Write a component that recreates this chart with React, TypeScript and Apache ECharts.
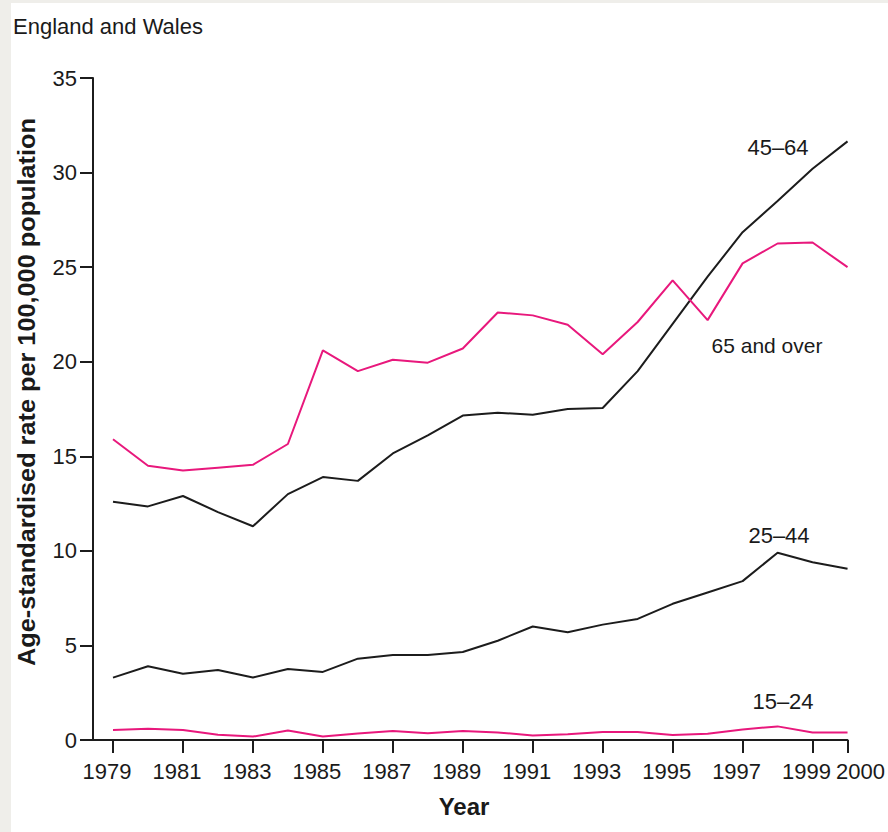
import React, { useEffect, useRef } from 'react';
import * as echarts from 'echarts';

const years = ['1979', '1980', '1981', '1982', '1983', '1984', '1985', '1986', '1987', '1988', '1989', '1990', '1991', '1992', '1993', '1994', '1995', '1996', '1997', '1998', '1999', '2000'];
const age15to24 = [0.53, 0.6, 0.53, 0.28, 0.18, 0.5, 0.18, 0.35, 0.48, 0.36, 0.48, 0.4, 0.24, 0.3, 0.42, 0.42, 0.27, 0.33, 0.56, 0.72, 0.4, 0.4];
const age25to44 = [3.3, 3.9, 3.5, 3.7, 3.3, 3.75, 3.6, 4.3, 4.5, 4.5, 4.65, 5.25, 6.0, 5.7, 6.1, 6.4, 7.2, 7.8, 8.4, 9.9, 9.4, 9.05];
const age45to64 = [12.6, 12.35, 12.9, 12.05, 11.3, 13.0, 13.9, 13.7, 15.15, 16.1, 17.15, 17.3, 17.2, 17.5, 17.55, 19.5, 22.0, 24.5, 26.85, 28.5, 30.2, 31.65];
const age65over = [15.9, 14.5, 14.25, 14.4, 14.55, 15.65, 20.6, 19.5, 20.1, 19.95, 20.7, 22.6, 22.45, 21.95, 20.4, 22.1, 24.3, 22.2, 25.2, 26.25, 26.3, 25.0];

const seriesNames = ['15–24', '25–44', '45–64', '65 and over'];
const titleText = 'England and Wales';
const yAxisTitle = 'Age-standardised rate per 100,000 population';
const xAxisTitle = 'Year';
const yMin = 0;
const yMax = 35;
const yInterval = 5;

const FONT = '"Liberation Sans", Arial, Helvetica, sans-serif';
const PINK = '#e8187c';
const BLACK = '#1c1c1c';
const TEXT = '#1a1a1a';

const showTick = (index: number) => index % 2 === 0 || index === years.length - 1;

export default function App() {
  const ref = useRef<HTMLDivElement>(null);
  useEffect(() => {
    if (!ref.current) return;
    const chart = echarts.init(ref.current, undefined, { renderer: 'svg' });
    const lineSeries = (name: string, data: number[], color: string) => ({
      name,
      type: 'line',
      data,
      symbol: 'none',
      lineStyle: { color, width: 2 },
      itemStyle: { color },
      z: 3,
    });
    const annot = (text: string, x: number, y: number, size = 22) => ({
      type: 'text',
      x,
      y,
      z: 10,
      style: { text, fontSize: size, fontFamily: FONT, fill: TEXT, textAlign: 'center', textVerticalAlign: 'middle' },
    });
    chart.setOption({
      animation: false,
      backgroundColor: '#ffffff',
      grid: { left: 113, right: 40, top: 78, bottom: 92, containLabel: false },
      xAxis: {
        type: 'category',
        data: years,
        boundaryGap: false,
        axisLine: { show: true, lineStyle: { color: BLACK, width: 2 } },
        axisTick: { show: true, length: 13, interval: (i: number) => showTick(i), lineStyle: { color: BLACK, width: 2 } },
        axisLabel: {
          interval: (i: number) => showTick(i),
          margin: 20,
          color: TEXT,
          fontSize: 22,
          fontFamily: FONT,
          formatter: (value: string) => (value === '2000' ? `{r|${value}}` : `{l|${value}}`),
          rich: {
            l: { fontSize: 22, fontFamily: FONT, color: TEXT, padding: [0, 12, 0, 0] },
            r: { fontSize: 22, fontFamily: FONT, color: TEXT, padding: [0, 0, 0, 26] },
          },
        },
        splitLine: { show: false },
      },
      yAxis: {
        type: 'value',
        min: yMin,
        max: yMax,
        interval: yInterval,
        offset: 20,
        axisLine: { show: true, lineStyle: { color: BLACK, width: 2 } },
        axisTick: { show: true, length: 13, lineStyle: { color: BLACK, width: 2 } },
        axisLabel: { margin: 16, color: TEXT, fontSize: 22, fontFamily: FONT },
        splitLine: { show: false },
      },
      series: [
        lineSeries(seriesNames[0], age15to24, PINK),
        lineSeries(seriesNames[1], age25to44, BLACK),
        lineSeries(seriesNames[2], age45to64, BLACK),
        lineSeries(seriesNames[3], age65over, PINK),
      ],
      graphic: [
        { type: 'rect', shape: { x: 0, y: 0, width: 11, height: 832 }, style: { fill: '#efeeea' }, silent: true },
        { type: 'rect', shape: { x: 0, y: 0, width: 888, height: 3 }, style: { fill: '#efeeea' }, silent: true },
        { type: 'line', shape: { x1: 92, y1: 740, x2: 113, y2: 740 }, style: { stroke: BLACK, lineWidth: 2 }, silent: true },
        {
          type: 'text', x: 13, y: 26,
          style: { text: titleText, fontSize: 22, fontFamily: FONT, fill: TEXT, textAlign: 'left', textVerticalAlign: 'middle' },
        },
        {
          type: 'text', x: 27, y: 392, rotation: Math.PI / 2, scaleX: 1.1,
          style: { text: yAxisTitle, fontSize: 23, fontWeight: 'bold', fontFamily: FONT, fill: TEXT, textAlign: 'center', textVerticalAlign: 'middle' },
        },
        {
          type: 'text', x: 464, y: 806,
          style: { text: xAxisTitle, fontSize: 24, fontWeight: 'bold', fontFamily: FONT, fill: TEXT, textAlign: 'center', textVerticalAlign: 'middle' },
        },
        annot(seriesNames[2], 778, 147),
        annot(seriesNames[3], 767, 345, 21),
        annot(seriesNames[1], 779, 535),
        annot(seriesNames[0], 783, 701),
      ],
    });
    return () => chart.dispose();
  }, []);
  return <div ref={ref} style={{ position: 'fixed', left: 0, top: 0, width: 888, height: 832 }} />;
}
